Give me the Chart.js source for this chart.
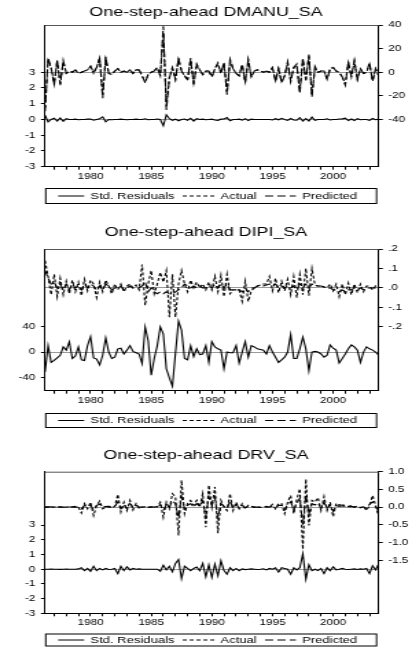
<!DOCTYPE html>
<html>
<head>
<meta charset="utf-8">
<script src="https://cdn.jsdelivr.net/npm/chart.js@4.4.0/dist/chart.umd.min.js"></script>
<style>
  html, body { margin: 0; padding: 0; background: #fff; overflow: hidden; }
  canvas { position: absolute; left: 0; }
</style>
</head>
<body>
<canvas id="grafico1" width="300" height="210" style="top:0px;width:412px;height:210px"></canvas>
<canvas id="grafico2" width="300" height="220" style="top:210px;width:412px;height:220px"></canvas>
<canvas id="grafico3" width="300" height="217" style="top:430px;width:412px;height:217px"></canvas>
<script>
// trimestres 1976Q2 - 2003Q4
const primerTrimestre = 1976.25;
const ultimoTrimestre = 2003.75;
const trimestres = Array.from({ length: 111 }, (_, i) => primerTrimestre + i * 0.25);
const anios = Array.from({ length: 27 }, (_, i) => 1977 + i);

//DMANU_SA
const residuos1 = [
  0.27, -0.15, 0, 0.08, -0.1, 0.1, -0.12, 0.05, 0, 0,
  0.02, -0.02, 0, 0, 0.02, 0.03, -0.05, 0, 0.05, 0.17,
  -0.15, 0, -0.02, 0, 0, 0.02, 0, -0.02, 0, 0,
  0.02, 0, 0, 0.04, -0.02, 0, 0, 0.03, 0, -0.4,
  0.3, 0.05, -0.05, 0.02, -0.08, 0, 0.03, -0.05, 0.08, -0.1,
  0.05, 0, 0.02, -0.02, 0, 0.02, -0.03, -0.06, 0.02, 0.03,
  0.12, -0.08, 0, 0, 0.02, -0.04, 0.05, -0.07, 0.02, 0,
  0, 0, 0, 0, 0, -0.03, 0.05, -0.02, 0.07, 0,
  -0.06, 0.06, -0.03, -0.05, 0.12, -0.1, 0.05, -0.1, 0.15, -0.05,
  0, 0, 0, 0.04, -0.03, 0, 0, 0.03, 0.04, 0.08,
  -0.07, 0.03, -0.07, 0.05, -0.02, 0, 0, -0.06, 0.06, -0.02,
  0.02];
const actual1 = [
  -30, 10, 4, -10, 10, -11, 9, -1, 1, 0,
  2, -1, 0, 1, 2, 5, -1, 4, 12, -19,
  11, -1, -2, 1, 3, 0, 1, 0, 2, -1,
  2, 2, -3, -8, -2, 0, 1, 4, -3, 33,
  -29, -4, 3, -6, 11, 1, -3, -7, 12, -11,
  7, 2, -2, 1, 1, -4, 3, 7, -1, 8,
  -17, 10, 3, -1, -3, 6, -8, 10, -4, 1,
  2, 1, 0, 1, 0, 4, -7, 3, -8, -3,
  8, -7, 4, 6, -16, 11, -7, 14, -19, 4,
  0, 1, 1, -6, 3, 4, 1, 0, -4, -10,
  8, -4, 9, -6, 3, -1, 0, 7, -7, 3,
  -3];
const predicho1 = [
  -33, 12, 4, -11, 10, -10, 10, -1, 1, 0,
  2, -1, 0, 1, 2, 5, 0, 4, 12, -22,
  13, -1, -2, 1, 3, 0, 1, 0, 2, -1,
  2, 2, -3, -9, -2, 0, 1, 4, -3, 39,
  -32, -5, 4, -6, 12, 1, -3, -6, 11, -9,
  6, 2, -2, 1, 1, -4, 3, 8, -1, 8,
  -19, 11, 3, -1, -3, 7, -9, 11, -4, 1,
  2, 1, 0, 1, 0, 4, -8, 3, -9, -3,
  9, -8, 4, 7, -18, 12, -7, 15, -21, 5,
  0, 1, 1, -6, 3, 4, 1, 0, -4, -11,
  9, -4, 10, -6, 3, -1, 0, 8, -8, 3,
  -3];
const ticksIzq1 = [-3, -2, -1, 0, 1, 2, 3];
const ticksDer1 = [-40, -20, 0, 20, 40];

//DIPI_SA
const residuos2 = [
  -31, 10, -16, -13, -9, -5, 8, 3, 16, -10,
  -6, 8, -12, -13, 10, 24, -9, -11, -20, -5,
  22, 0, -10, -8, 5, 6, -3, 3, 10, 1,
  -1, -3, -18, 39, 18, -36, -10, 10, 39, 28,
  -26, -40, -53, -2, 48, 34, -10, -12, 10, -7,
  5, -4, -3, 10, -16, 16, 8, 5, 3, -26,
  0, -1, -1, 10, -17, 0, 16, -8, 10, 8,
  5, 4, 3, -3, 10, 0, -8, -16, -12, -8,
  0, 27, -10, -10, 5, 23, 5, -29, 0, 1,
  0, -3, -8, -5, 11, 6, 3, -17, -10, -3,
  5, 11, 8, 3, -16, 0, 8, 5, 3, 0,
  -5];
const actual2 = [
  0.14, 0.06, -0.035, 0.07, -0.045, 0.05, -0.035, 0.035, -0.03, 0.04,
  -0.02, 0.03, -0.04, 0.045, -0.015, 0.04, 0.02, -0.05, 0.03, -0.02,
  0.04, 0.01, -0.03, 0.02, -0.01, 0.02, -0.02, 0.01, 0.02, 0,
  0.015, -0.01, 0.12, -0.09, 0.02, 0.09, -0.03, 0.02, 0.08, 0.03,
  0.09, -0.15, 0.07, -0.15, 0.02, 0.09, 0.02, -0.02, 0.04, 0,
  0.03, 0, 0.02, -0.01, 0.03, -0.01, 0.06, -0.02, 0.065, -0.045,
  0.07, -0.03, -0.01, -0.01, -0.01, -0.07, 0.035, -0.07, -0.015, 0,
  0.01, 0.015, 0.02, 0.02, 0.06, -0.015, 0.05, -0.025, 0.035, -0.015,
  0.045, -0.035, 0.06, -0.05, 0.07, -0.035, 0.1, -0.04, 0.1, 0.015,
  0.01, 0.01, 0.005, 0, 0.02, -0.015, 0.02, -0.045, 0.02, -0.035,
  0.025, -0.035, 0.02, -0.025, 0.02, -0.02, 0.01, 0.01, -0.01, 0.01,
  0];
const predicho2 = [
  0.09, 0.05, 0.02, 0.03, 0, 0.02, -0.01, 0.02, -0.01, 0.02,
  0, 0.01, -0.01, 0.02, 0, 0.02, 0.01, -0.01, 0.01, -0.01,
  0.02, 0.01, -0.01, 0, 0, 0.01, -0.01, 0, 0.01, 0,
  0, 0, 0.01, 0.03, -0.02, 0, -0.02, -0.03, -0.02, -0.03,
  -0.02, -0.03, -0.03, -0.02, -0.01, 0, 0.02, 0.01, 0, 0.01,
  0, 0.01, 0, 0, 0.01, 0, 0.02, 0, 0.02, 0,
  0.02, -0.01, -0.01, -0.01, -0.01, -0.02, 0, -0.02, 0, 0,
  0.01, 0.01, 0.01, 0.015, 0.02, 0.01, 0.02, 0, 0.01, 0,
  0.01, 0, 0.01, -0.01, 0.02, 0, 0.02, 0, 0.02, 0.01,
  0.01, 0.01, 0.005, 0, 0, -0.01, -0.01, -0.02, -0.01, -0.02,
  -0.01, -0.01, 0, -0.01, 0, -0.01, 0, 0, 0, 0,
  0];
const ticksIzq2 = [-40, 0, 40];
const ticksDer2 = [-0.2, -0.1, 0, 0.1, 0.2];

//DRV_SA
const residuos3 = [
  0, 0, 0.01, 0, 0, -0.01, 0, 0.01, 0, 0,
  0, 0.02, 0.1, -0.1, 0.05, -0.15, 0.2, -0.1, 0.05, -0.05,
  0.05, -0.02, 0, 0.05, -0.3, 0.2, -0.1, 0.16, -0.05, 0.05,
  0, 0.02, 0, 0, 0, 0, 0, 0, -0.14, 0.27,
  -0.05, 0.2, -0.18, 0.39, 0.66, -0.64, 0.2, 0.05, -0.1, 0.05,
  0.15, -0.1, 0.39, -0.52, 0.3, -0.57, 0.34, -0.45, 0.57, -0.1,
  -0.34, 0.1, -0.1, 0.05, -0.1, 0.02, -0.03, 0, 0.02, 0,
  -0.02, 0, 0.03, -0.05, 0.05, 0, 0.1, -0.2, 0.1, 0.05,
  0, -0.34, 0.1, -0.05, 0.1, 1.05, -0.68, 0.3, -0.1, 0,
  -0.1, 0.05, -0.3, 0.1, -0.1, 0.16, -0.05, 0, 0.05, 0,
  -0.02, 0, 0.02, -0.02, 0.02, 0, 0.05, -0.3, 0.23, -0.05,
  0.35];
const actual3 = [
  0, 0.01, 0, 0, 0.02, 0, -0.01, 0, 0.01, 0,
  0.02, 0, -0.17, 0.1, -0.05, 0.14, -0.24, 0.05, 0.17, -0.05,
  0, 0.03, -0.02, 0.02, 0.36, -0.14, 0.14, -0.1, 0.19, -0.08,
  0.1, -0.03, 0, 0.01, -0.01, 0, 0.02, 0, 0.14, -0.29,
  0.14, -0.05, 0.38, 0.29, -0.8, 0.76, -0.19, 0.1, 0.19, 0.05,
  0.19, 0, 0.38, -0.57, 0.62, 0, 0.57, -0.74, 0.19, 0,
  -0.1, 0.38, -0.1, 0.14, -0.05, 0.1, -0.05, 0.05, 0.02, 0,
  0.01, -0.01, 0, 0.02, 0, 0.08, -0.05, 0.1, 0.1, -0.19,
  0.14, 0.33, -0.19, 0.21, 0.52, -1.19, 0.79, -0.52, 0.19, 0.14,
  0.27, -0.1, 0.3, -0.1, 0.14, -0.27, 0.11, 0.05, 0.1, 0,
  0.02, 0.05, 0, 0.03, -0.02, 0.02, -0.1, 0.05, 0.33, 0.05,
  -0.27];
const predicho3 = [
  0, 0, 0.01, 0, 0, 0.01, 0, 0, 0, 0.01,
  0, 0, -0.05, 0.05, 0, 0.05, -0.08, 0.05, 0.08, 0,
  0.02, 0, 0, 0.02, 0.15, -0.05, 0.08, -0.05, 0.1, -0.02,
  0.05, 0, 0, 0, 0, 0.01, 0, 0, 0.08, -0.1,
  0.08, 0, 0.18, 0.1, -0.3, 0.3, -0.05, 0.05, 0.1, 0,
  0.1, 0.02, 0.18, -0.25, 0.3, 0.05, 0.28, -0.3, 0.1, 0.02,
  -0.05, 0.18, -0.03, 0.08, -0.02, 0.05, -0.02, 0.02, 0.01, 0,
  0, 0, 0, 0.01, 0, 0.03, -0.02, 0.05, 0.05, -0.08,
  0.08, 0.15, -0.08, 0.1, 0.25, -0.5, 0.35, -0.2, 0.1, 0.06,
  0.12, -0.04, 0.14, -0.04, 0.06, -0.12, 0.05, 0.02, 0.04, 0,
  0.01, 0.02, 0, 0.01, -0.01, 0.01, -0.04, 0.08, 0.15, 0.02,
  -0.12];
const ticksIzq3 = [-3, -2, -1, 0, 1, 2, 3];
const ticksDer3 = [-1.5, -1, -0.5, 0, 0.5, 1];

Chart.defaults.font.family = '"Liberation Sans", Arial, sans-serif';
Chart.defaults.color = "#000";

// marco superior y leyenda con recuadro (estilo EViews)
const muestras = [19, 23, 22.5];
const marco = {
  id: "marco",
  afterDraw(chart, args, opts) {
    const ctx = chart.ctx;
    const a = chart.chartArea;
    ctx.save();
    ctx.lineWidth = 1;
    ctx.strokeStyle = "#555";
    ctx.beginPath();
    ctx.moveTo(a.left, a.top + 0.5);
    ctx.lineTo(a.right, a.top + 0.5);
    ctx.stroke();

    ctx.strokeStyle = "#000";
    ctx.strokeRect(a.left + 0.5, opts.top + 0.5, a.right - 2 - a.left, opts.alto);
    ctx.font = '9.5px "Liberation Sans", Arial, sans-serif';
    ctx.textBaseline = "middle";
    ctx.fillStyle = "#000";
    const y = opts.top + opts.alto / 2 + 0.5;
    let x = a.left + 9.5;
    chart.data.datasets.forEach((ds, i) => {
      ctx.setLineDash(ds.borderDash || []);
      ctx.beginPath();
      ctx.moveTo(x, y);
      ctx.lineTo(x + muestras[i], y);
      ctx.stroke();
      ctx.setLineDash([]);
      x += muestras[i] + 4.5;
      ctx.fillText(ds.label, x, y);
      x += ctx.measureText(ds.label).width + 6;
    });
    ctx.restore();
  },
};

const lineaCero = (c) => (c.tick && c.tick.value === 0 ? "#9a9a9a" : "transparent");

function grafico(id, p) {
  return new Chart(document.getElementById(id), {
    type: "line",
    data: {
      labels: trimestres,
      datasets: [
        { label: "Std. Residuals", data: p.residuos, yAxisID: "y", borderColor: "#000", borderWidth: 1.1 },
        { label: "Actual", data: p.actual, yAxisID: "y1", borderColor: "#000", borderWidth: 1.1, borderDash: [3, 2] },
        { label: "Predicted", data: p.predicho, yAxisID: "y1", borderColor: "#000", borderWidth: 1.1, borderDash: [6, 3] },
      ],
    },
    options: {
      responsive: false,
      animation: false,
      devicePixelRatio: 1,
      elements: { point: { radius: 0 }, line: { tension: 0 } },
      layout: { padding: 0 },
      plugins: {
        legend: { display: false },
        tooltip: { enabled: false },
        title: {
          display: true,
          text: p.titulo,
          color: "#000",
          font: { size: 13, weight: "normal", lineHeight: 1 },
          padding: { top: p.tituloY - 6.5, bottom: p.arriba - p.tituloY - 6.5 },
        },
        marco: { top: p.leyendaTop, alto: p.leyendaAlto },
      },
      scales: {
        x: {
          type: "linear",
          min: primerTrimestre,
          max: ultimoTrimestre,
          afterBuildTicks: (s) => { s.ticks = anios.map((v) => ({ value: v })); },
          afterFit: (s) => { s.height = p.alto - p.abajo; },
          ticks: { autoSkip: false, maxRotation: 0, padding: 1.5, font: { size: 8.5 },
            callback: (v) => (v % 5 === 0 ? String(v) : "") },
          grid: { drawOnChartArea: false, tickLength: 3, tickColor: "#000" },
          border: { color: "#000" },
        },
        y: {
          position: "left",
          min: p.izqMin,
          max: p.izqMax,
          afterBuildTicks: (s) => { s.ticks = p.ticksIzq.map((v) => ({ value: v })); },
          afterFit: (s) => { s.width = 32.8; },
          ticks: { padding: 4, font: { size: 8.5 }, callback: (v) => String(v) },
          grid: { color: lineaCero, tickColor: "#000", tickLength: 3 },
          border: { color: "#000" },
        },
        y1: {
          position: "right",
          min: p.derMin,
          max: p.derMax,
          afterBuildTicks: (s) => { s.ticks = p.ticksDer.map((v) => ({ value: v })); },
          afterFit: (s) => { s.width = 24.3; },
          ticks: { padding: 4, font: { size: 8.5 }, callback: p.formatoDer },
          grid: { color: lineaCero, tickColor: "#000", tickLength: 3 },
          border: { color: "#000" },
        },
      },
    },
    plugins: [marco],
  });
}

//Grafico DMANU_SA
grafico("grafico1", {
  titulo: "One-step-ahead DMANU_SA",
  residuos: residuos1, actual: actual1, predicho: predicho1,
  ticksIzq: ticksIzq1, ticksDer: ticksDer1,
  izqMin: -3, izqMax: 6, derMin: -80, derMax: 40,
  formatoDer: (v) => String(v),
  alto: 210, tituloY: 12, arriba: 25, abajo: 166.7, leyendaTop: 188, leyendaAlto: 15,
});

//Grafico DIPI_SA
grafico("grafico2", {
  titulo: "One-step-ahead DIPI_SA",
  residuos: residuos2, actual: actual2, predicho: predicho2,
  ticksIzq: ticksIzq2, ticksDer: ticksDer2,
  izqMin: -60, izqMax: 160, derMin: -0.528, derMax: 0.2,
  formatoDer: (v) => (v < 0 ? "-" : "") + "." + Math.round(Math.abs(v) * 10),
  alto: 220, tituloY: 22, arriba: 39, abajo: 180.7, leyendaTop: 203, leyendaAlto: 14,
});

//Grafico DRV_SA
grafico("grafico3", {
  titulo: "One-step-ahead DRV_SA",
  residuos: residuos3, actual: actual3, predicho: predicho3,
  ticksIzq: ticksIzq3, ticksDer: ticksDer3,
  izqMin: -3, izqMax: 6.63, derMin: -3, derMax: 1,
  formatoDer: (v) => v.toFixed(1),
  alto: 217, tituloY: 25, arriba: 41.7, abajo: 183.3, leyendaTop: 203.5, leyendaAlto: 12,
});
</script>
</body>
</html>
